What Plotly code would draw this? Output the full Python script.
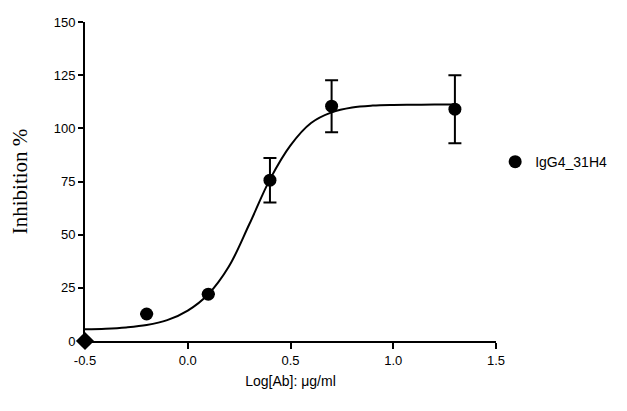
import plotly.graph_objects as go

# Data points (log concentration, % inhibition, SD)
x_pts = [-0.2, 0.1, 0.4, 0.7, 1.3]
y_pts = [12.7, 22.0, 75.6, 110.4, 109.0]
err_pts = [None, None, 10.5, 12.2, 16.0]

# Point at origin (drawn as diamond)
x_zero = [-0.5]
y_zero = [0.0]

# Fitted curve
x_curve = [-0.5, -0.4, -0.3, -0.2, -0.1, 0.0, 0.1, 0.2, 0.3, 0.4, 0.5, 0.6,
           0.7, 0.8, 0.9, 1.0, 1.1, 1.2, 1.3]
y_curve = [5.5, 5.8, 6.4, 7.5, 9.8, 14.3, 22.0, 35.0, 55.0, 76.0, 92.0, 102.5,
           107.5, 109.8, 110.7, 111.0, 111.1, 111.2, 111.2]

x_ticks = [-0.5, 0.0, 0.5, 1.0, 1.5]
x_ticklabels = ["-0.5", "0.0", "0.5", "1.0", "1.5"]
y_ticks = [0, 25, 50, 75, 100, 125, 150]

series_name = "IgG4_31H4"

fig = go.Figure()
fig.add_trace(go.Scatter(
    x=x_curve, y=y_curve, mode="lines", line=dict(color="black", width=2, shape="spline"),
    showlegend=False, hoverinfo="skip"))
fig.add_trace(go.Scatter(
    x=x_pts, y=y_pts, mode="markers", name=series_name,
    marker=dict(symbol="circle", size=13, color="black"),
    error_y=dict(type="data", array=err_pts, visible=True, color="black",
                 thickness=2, width=6.5),
    cliponaxis=False))
fig.add_trace(go.Scatter(
    x=x_zero, y=y_zero, mode="markers", showlegend=False,
    marker=dict(symbol="diamond", size=14, color="black"), cliponaxis=False))

axis_font = dict(family="Liberation Sans, Arial, sans-serif", size=13, color="black")

fig.update_layout(
    width=611, height=395,
    margin=dict(l=76, r=120, t=7, b=62),
    paper_bgcolor="white", plot_bgcolor="white",
    showlegend=True,
    legend=dict(x=0.998, y=0.561, xanchor="left", yanchor="middle",
                font=dict(family="Liberation Sans, Arial, sans-serif", size=14, color="black"),
                bgcolor="rgba(0,0,0,0)"),
    xaxis=dict(range=[-0.5, 1.5], tickvals=x_ticks, ticktext=x_ticklabels,
               showline=True, linecolor="black", linewidth=2, ticks="outside",
               ticklen=6, tickwidth=2, tickcolor="black", showgrid=False, zeroline=False,
               tickfont=axis_font, ticklabeloverflow="allow",
               title=dict(text="Log[Ab]: μg/ml", font=dict(family="Liberation Sans, Arial, sans-serif", size=14, color="black"), standoff=10)),
    yaxis=dict(range=[0, 150], tickvals=y_ticks,
               showline=True, linecolor="black", linewidth=2, ticks="outside",
               ticklen=5, tickwidth=2, tickcolor="black", showgrid=False, zeroline=False,
               tickfont=axis_font, ticklabeloverflow="allow",
               title=dict(text="Inhibition %", font=dict(family="Liberation Serif, Times New Roman, serif", size=21, color="black"), standoff=24)),
)

fig.write_html("out.html")
